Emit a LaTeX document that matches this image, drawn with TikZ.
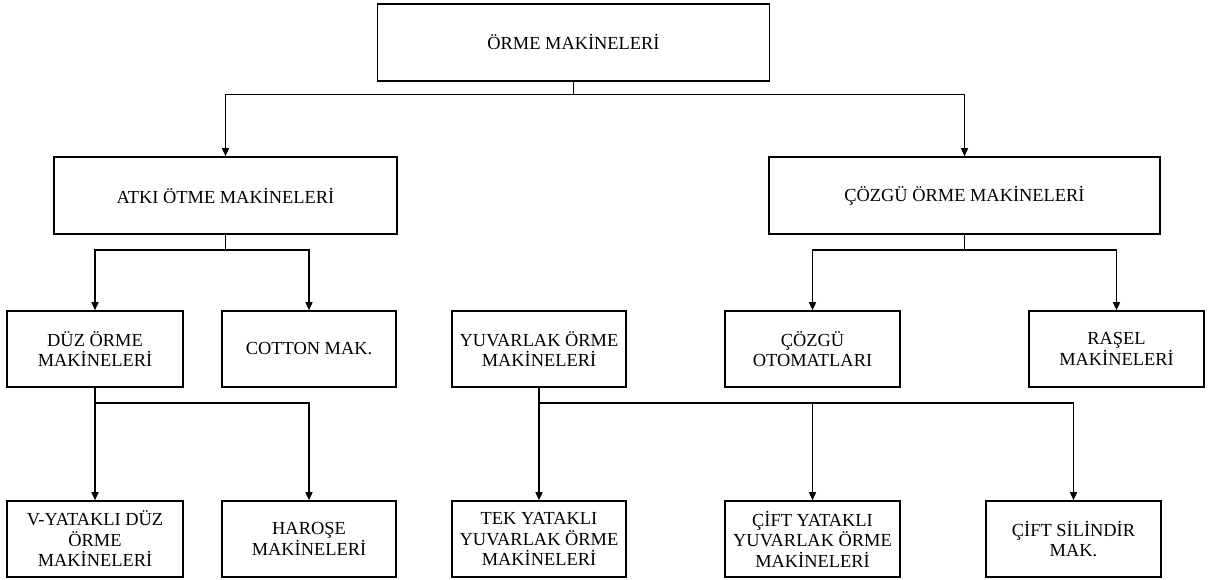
\documentclass[tikz,border=0pt]{standalone}
\usepackage{fontspec}
\setmainfont{Liberation Serif}
\usetikzlibrary{arrows.meta}

\tikzset{
  box/.style={draw, line width=1.6pt, minimum height=76pt, inner sep=2pt,
              align=center, font=\fontsize{18.4}{20.5}\selectfont},
  link/.style={line width=1.4pt},
  arr/.style={link, -{Triangle[length=8pt,width=7pt]}},
}

\begin{document}
\begin{tikzpicture}[x=1pt, y=-1pt]
\useasboundingbox (0,0) rectangle (1214,580);

% level 0
\node[box, minimum width=392pt, minimum height=77pt] (top) at (573.5,42.5) {ÖRME MAKİNELERİ};

% level 1
\node[box, minimum width=343pt, minimum height=77pt] (atki)  at (225.5,195.5) {ATKI ÖTME MAKİNELERİ};
\node[box, minimum width=391pt, minimum height=77pt] (cozgu) at (964.5,195.5) {ÇÖZGÜ ÖRME MAKİNELERİ};

% level 2
\node[box, minimum width=176pt] (duz)    at (95,349)     {DÜZ ÖRME\\MAKİNELERİ};
\node[box, minimum width=174pt] (cotton) at (309,349)    {COTTON MAK.};
\node[box, minimum width=174pt] (yuv)    at (539,349)    {YUVARLAK ÖRME\\MAKİNELERİ};
\node[box, minimum width=175pt] (oto)    at (812.5,349)  {ÇÖZGÜ\\OTOMATLARI};
\node[box, minimum width=175pt] (rasel)  at (1116.5,349) {RAŞEL\\MAKİNELERİ};

% level 3
\node[box, minimum width=176pt] (vyat)  at (95,539)     {V-YATAKLI DÜZ\\ÖRME\\MAKİNELERİ};
\node[box, minimum width=174pt] (haro)  at (309,539)    {HAROŞE\\MAKİNELERİ};
\node[box, minimum width=174pt] (tek)   at (539,539)    {TEK YATAKLI\\YUVARLAK ÖRME\\MAKİNELERİ};
\node[box, minimum width=175pt] (cift)  at (812.5,539)  {ÇİFT YATAKLI\\YUVARLAK ÖRME\\MAKİNELERİ};
\node[box, minimum width=175pt] (sil)   at (1073.5,539) {ÇİFT SİLİNDİR\\MAK.};

% junction points of the tree
\path (top.south)   ++(0,13) coordinate (jtop);
\path (atki.south)  ++(0,15) coordinate (jatki);
\path (cozgu.south) ++(0,15) coordinate (jcozgu);
\path (duz.south)   ++(0,15) coordinate (jduz);
\path (yuv.south)   ++(0,15) coordinate (jyuv);

% connectors
\draw[link] (top.south) -- (jtop);
\draw[arr] (jtop) -| (atki.north);
\draw[arr] (jtop) -| (cozgu.north);

\draw[link] (atki.south) -- (jatki);
\draw[arr] (jatki) -| (duz.north);
\draw[arr] (jatki) -| (cotton.north);

\draw[link] (cozgu.south) -- (jcozgu);
\draw[arr] (jcozgu) -| (oto.north);
\draw[arr] (jcozgu) -| (rasel.north);

\draw[link] (duz.south) -- (jduz);
\draw[arr] (jduz) -- (vyat.north);
\draw[arr] (jduz) -| (haro.north);

\draw[link] (yuv.south) -- (jyuv);
\draw[arr] (jyuv) -- (tek.north);
\draw[arr] (jyuv) -| (cift.north);
\draw[arr] (jyuv) -| (sil.north);
\end{tikzpicture}
\end{document}
